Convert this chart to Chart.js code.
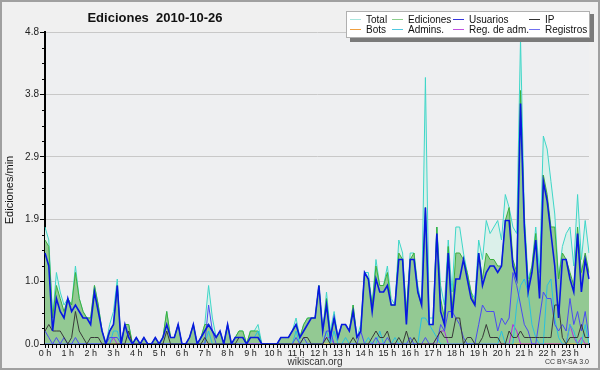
<!DOCTYPE html>
<html>
<head>
<meta charset="utf-8">
<script src="https://cdn.jsdelivr.net/npm/chart.js@4.4.1/dist/chart.umd.min.js"></script>
<style>
  html, body { margin: 0; padding: 0; background: #f0f0f0; }
  #wrap { width: 600px; height: 370px; }
</style>
</head>
<body>
<div id="wrap"><canvas id="chart" width="600" height="370"></canvas></div>
<script>
// 10-minute slots over one day, values in edits per minute
const hourLabels = ['0 h','1 h','2 h','3 h','4 h','5 h','6 h','7 h','8 h','9 h','10 h','11 h',
                    '12 h','13 h','14 h','15 h','16 h','17 h','18 h','19 h','20 h','21 h','22 h','23 h'];
const slots = [];
for (let h = 0; h < 24; h++) {
  for (let m = 0; m < 60; m += 10) slots.push(h + ':' + String(m).padStart(2, '0'));
}

const yTicks = [0, 0.96, 1.92, 2.88, 3.84, 4.8];
const yTickLabels = ['0.0', '1.0', '1.9', '2.9', '3.8', '4.8'];

const total = [
  1.8,1.6,0.4,1.1,0.8,0.6,0.7,0.6,1.2,0.7,0.5,0.4,
  0.4,0.9,0.6,0.2,0,0.3,0.5,1.0,0,0.3,0.3,0,
  0.1,0,0.1,0,0,0.1,0,0.1,0.5,0.1,0.1,0.3,
  0,0,0.1,0.3,0,0.1,0.3,0.9,0.4,0.1,0.2,0,
  0.3,0,0.1,0.2,0.2,0,0.2,0.2,0.3,0,0,0,
  0,0,0.1,0.1,0.1,0.2,0.4,0.1,0.3,0.4,0.4,0.4,
  0.9,0.2,0.8,0.2,0.5,0.1,0.3,0.3,0.2,0.6,0.1,0.3,
  1.1,1.1,0.6,1.3,0.9,0.9,1.2,0.7,0.6,1.6,1.4,0.5,
  1.4,1.4,0.9,0.6,4.1,0.4,0.4,1.8,0.9,0.6,1.6,0.8,
  1.8,1.8,1.4,1.1,0.8,0.7,1.6,1.3,1.9,1.7,1.8,1.9,
  1.6,2.3,2.1,1.8,1.7,4.7,2.0,1.0,1.2,1.8,1.1,3.2,
  3.0,2.5,2.0,1.0,1.5,1.7,1.8,1.2,2.3,1.3,1.9,1.4
];
const ediciones = [
  1.6,1.5,0.4,0.9,0.7,0.5,0.7,0.6,1.1,0.7,0.5,0.4,
  0.4,0.9,0.6,0.2,0,0.2,0.3,0.9,0,0.3,0.3,0,
  0.1,0,0.1,0,0,0.1,0,0.1,0.5,0.1,0.1,0.3,
  0,0,0.1,0.3,0,0.1,0.3,0.3,0.2,0.1,0.2,0,
  0.3,0,0.1,0.2,0.2,0,0.2,0.2,0.2,0,0,0,
  0,0,0.1,0.1,0.1,0.2,0.3,0.1,0.3,0.4,0.4,0.4,
  0.9,0.2,0.7,0.1,0.4,0.1,0.3,0.3,0.2,0.6,0.1,0.2,
  1.1,1.0,0.6,1.2,0.9,0.9,1.1,0.6,0.6,1.4,1.3,0.5,
  1.3,1.4,0.8,0.6,2.1,0.3,0.3,1.8,0.7,0.4,1.5,0.5,
  1.4,1.4,1.3,1.1,0.8,0.6,1.4,1.0,1.4,1.3,1.3,1.2,
  1.2,1.9,2.1,1.3,1.1,3.9,1.9,0.9,1.2,1.7,0.8,2.6,
  2.3,1.8,1.8,1.0,1.4,1.3,1.1,0.9,1.8,1.1,1.4,1.1
];
const usuarios = [
  1.4,1.2,0.2,0.7,0.5,0.4,0.7,0.5,0.6,0.5,0.4,0.4,
  0.3,0.8,0.5,0.2,0,0.2,0.3,0.9,0,0.3,0.1,0,
  0.1,0,0.1,0,0,0.1,0,0.1,0.3,0.1,0.1,0.3,
  0,0,0.1,0.3,0,0.1,0.2,0.3,0.2,0.1,0.2,0,
  0.3,0,0.1,0.1,0.1,0,0.1,0.1,0.1,0,0,0,
  0,0,0.1,0.1,0.1,0.2,0.3,0.1,0.2,0.3,0.4,0.4,
  0.9,0.2,0.6,0.1,0.4,0.1,0.3,0.3,0.2,0.5,0.1,0.2,
  1.1,1.0,0.5,1.0,0.8,0.8,0.9,0.6,0.6,1.3,1.3,0.3,
  1.3,1.3,0.8,0.6,2.1,0.3,0.3,1.7,0.5,0.3,1.4,0.4,
  1.0,1.0,1.3,1.0,0.7,0.6,1.4,0.9,1.1,1.2,1.2,1.1,
  1.2,1.9,1.9,1.2,1.0,3.7,1.8,0.8,1.1,1.6,0.7,2.5,
  2.2,1.7,1.2,0.4,1.3,1.3,1.0,0.8,1.7,0.8,1.3,1.0
];
const ip = [
  0.2,0.3,0.2,0.2,0.2,0.1,0,0.1,0.5,0.2,0.1,0,
  0.1,0.1,0.1,0,0,0,0,0,0,0,0.2,0,
  0,0,0,0,0,0,0,0,0.2,0,0,0,
  0,0,0,0,0,0,0.1,0,0,0,0,0,
  0,0,0,0.1,0.1,0,0.1,0.1,0.1,0,0,0,
  0,0,0,0,0,0,0,0,0.1,0.1,0,0,
  0,0,0.1,0,0,0,0,0,0,0.1,0,0,
  0,0,0.1,0.2,0.1,0.1,0.2,0,0,0.1,0,0.2,
  0,0.1,0,0,0,0,0,0.1,0.2,0.1,0.1,0.1,
  0.4,0.4,0,0.1,0.1,0,0,0.1,0.3,0.1,0.1,0.1,
  0,0,0.2,0.1,0.1,0.2,0.1,0.1,0.1,0.1,0.1,0.1,
  0.1,0.1,0.6,0.6,0.1,0,0.1,0.1,0.1,0.3,0.1,0.1
];
const bots = [
  0,0,0,0,0,0,0,0,0,0,0,0,
  0,0,0,0,0,0,0,0,0,0,0,0,
  0,0,0,0,0,0,0,0,0,0,0,0,
  0,0,0,0,0,0,0,0,0,0,0,0,
  0,0,0,0,0,0,0,0,0,0,0,0,
  0,0,0,0,0,0,0,0,0,0,0,0,
  0,0,0,0,0,0,0,0,0,0,0,0,
  0,0,0,0,0,0,0,0,0,0,0,0,
  0,0,0,0,0,0,0,0,0,0,0,0,
  0,0,0,0,0,0,0,0,0,0,0,0,
  0,0,0,0,0,0,0,0,0,0,0,0,
  0,0,0,0,0,0,0,0,0,0,0,0
];
const admins = [
  0,0,0,0,0,0,0,0,0,0,0,0,
  0,0,0,0,0,0,0.2,0.2,0,0,0,0,
  0,0,0,0,0,0,0,0,0,0,0,0,
  0,0,0,0,0,0,0,0.2,0,0,0,0,
  0,0,0,0,0,0,0.1,0.1,0.2,0,0,0,
  0,0,0,0,0,0,0.2,0,0,0,0,0,
  0,0,0.2,0,0.2,0,0,0.1,0,0,0,0,
  0,0.1,0,0,0.2,0,0,0,0.1,0,0,0,
  0,0,0,0.4,0.4,0.3,0.2,0.1,0,0,0,0,
  0,0,0,0,0,0,0,0,0,0,0,0,
  0.2,0,0,0,0.6,0.9,1.0,0.8,0.3,0.1,0,0,
  0.9,1.0,0.4,0.1,0,0,0.3,0.2,0,0,0.3,0
];
const regAdm = [
  0,0,0,0,0,0,0,0,0,0,0,0,
  0,0,0,0,0,0,0.1,0,0,0,0,0,
  0,0,0,0,0,0,0,0,0,0,0,0,
  0,0,0,0,0,0,0,0,0,0,0,0,
  0,0,0,0,0,0,0,0,0,0,0,0,
  0,0,0,0,0,0,0,0,0,0,0,0,
  0,0,0.1,0.1,0,0,0,0,0,0,0,0,
  0,0,0,0,0,0,0,0,0,0,0,0,
  0,0,0,0,0,0,0,0.1,0.2,0.2,0,0,
  0,0,0,0,0,0,0,0,0,0,0,0,
  0,0,0,0.3,0.2,0,0,0,0,0,0,0,
  0,0,0,0,0,0,0.3,0.1,0,0.1,0,0
];
const registros = [
  0.2,0.1,0,0.1,0,0.1,0,0,0.1,0,0,0,
  0,0,0,0,0,0.1,0.1,0.1,0,0,0,0,
  0,0,0,0,0,0,0,0,0,0,0,0,
  0,0,0,0,0,0,0,0.6,0.2,0,0,0,
  0,0,0,0,0,0,0,0,0,0,0,0,
  0,0,0,0,0,0,0.1,0,0.1,0,0,0,
  0,0,0.2,0.2,0,0,0,0,0,0,0,0.2,
  0,0,0,0.1,0,0,0.1,0,0,0,0,0,
  0.1,0,0,0,0.1,0,0,0,0.3,0.2,0.5,0.5,
  0.4,0.3,0.1,0,0,0,0.3,0.6,0.5,0.5,0.5,0.2,
  0.4,0.3,0.4,1.1,0.9,0.6,0.3,0.2,0,0,0.4,0.8,
  0.7,0.7,0.3,0.2,0.3,0.2,0.7,0.3,0.5,0.2,0.5,0.1
];

// legend layout: two rows of four, same order as the original
const legendItems = [
  { label: 'Total', color: '#a8e6de' },
  { label: 'Ediciones', color: '#8ccf8c' },
  { label: 'Usuarios', color: '#3535dd' },
  { label: 'IP', color: '#333333' },
  { label: 'Bots', color: '#f0a040' },
  { label: 'Admins.', color: '#50c8e0' },
  { label: 'Reg. de adm.', color: '#c050e0' },
  { label: 'Registros', color: '#7070f0' }
];

function line(label, data, color, width, order, extra) {
  return Object.assign({
    label: label, data: data, borderColor: color, borderWidth: width,
    pointRadius: 0, tension: 0, fill: false, order: order
  }, extra || {});
}

const decor = {
  id: 'decor',
  beforeDraw(chart) {
    const ctx = chart.ctx, a = chart.chartArea;
    ctx.save();
    ctx.fillStyle = '#f0f0f0';
    ctx.fillRect(0, 0, chart.width, chart.height);
    ctx.fillStyle = '#eeeff1';
    ctx.fillRect(a.left, a.top, a.right - a.left, a.bottom - a.top);
    ctx.restore();
  },
  afterDraw(chart) {
    const ctx = chart.ctx, a = chart.chartArea, y = chart.scales.y;
    ctx.save();
    // minor ticks on the value axis
    ctx.strokeStyle = '#000';
    ctx.lineWidth = 1;
    for (let i = 0; i < yTicks.length - 1; i++) {
      const step = (yTicks[i + 1] - yTicks[i]) / 4;
      for (let k = 1; k < 4; k++) {
        const py = Math.round(y.getPixelForValue(yTicks[i] + k * step)) + 0.5;
        ctx.beginPath(); ctx.moveTo(a.left - 3, py); ctx.lineTo(a.left, py); ctx.stroke();
      }
    }
    // title
    ctx.fillStyle = '#111';
    ctx.font = 'bold 13px "Liberation Sans", Arial, sans-serif';
    ctx.textAlign = 'center';
    ctx.textBaseline = 'alphabetic';
    ctx.fillText('Ediciones  2010-10-26', 155, 22);
    // axis title
    ctx.save();
    ctx.translate(13, 190);
    ctx.rotate(-Math.PI / 2);
    ctx.font = '11px "Liberation Sans", Arial, sans-serif';
    ctx.fillStyle = '#111';
    ctx.textAlign = 'center';
    ctx.fillText('Ediciones/min', 0, 0);
    ctx.restore();
    // footer
    ctx.font = '10px "Liberation Sans", Arial, sans-serif';
    ctx.fillStyle = '#333';
    ctx.textAlign = 'center';
    ctx.fillText('wikiscan.org', 315, 365);
    ctx.font = '7px "Liberation Sans", Arial, sans-serif';
    ctx.textAlign = 'right';
    ctx.fillText('CC BY-SA 3.0', 589, 364);
    // legend box with shadow
    ctx.fillStyle = '#7a7a7a';
    ctx.fillRect(350, 14, 244, 28);
    ctx.fillStyle = '#ffffff';
    ctx.fillRect(346, 11, 244, 27);
    ctx.strokeStyle = '#b0b0b0';
    ctx.strokeRect(346.5, 11.5, 243, 26);
    const colSwatch = [350, 392, 453, 529];
    const rowY = [19, 29];
    ctx.font = '10px "Liberation Sans", Arial, sans-serif';
    ctx.textAlign = 'left';
    ctx.textBaseline = 'middle';
    legendItems.forEach((it, i) => {
      const cx = colSwatch[i % 4], cy = rowY[Math.floor(i / 4)];
      ctx.strokeStyle = it.color;
      ctx.beginPath(); ctx.moveTo(cx, cy + 0.5); ctx.lineTo(cx + 11, cy + 0.5); ctx.stroke();
      ctx.fillStyle = '#111';
      ctx.fillText(it.label, cx + 16, cy + 1);
    });
    // outer frame
    ctx.strokeStyle = '#a0a0a0';
    ctx.lineWidth = 2;
    ctx.strokeRect(1, 1, chart.width - 2, chart.height - 2);
    ctx.restore();
  }
};

new Chart(document.getElementById('chart'), {
  type: 'line',
  data: {
    labels: slots,
    datasets: [
      line('Total', total, '#3fd6c8', 1, 10, { fill: 'origin', backgroundColor: '#dbf0ea' }),
      line('Ediciones', ediciones, '#3cb03c', 1, 9, { fill: 'origin', backgroundColor: '#93c993' }),
      line('Bots', bots, '#f0a040', 1, 8),
      line('Reg. de adm.', regAdm, '#b030e0', 1, 7),
      line('Admins.', admins, '#28c0e0', 1, 6),
      line('Registros', registros, '#4a4af2', 1, 5),
      line('IP', ip, '#383838', 1, 4),
      line('Usuarios', usuarios, '#0818e0', 1.6, 3)
    ]
  },
  options: {
    responsive: false,
    animation: false,
    devicePixelRatio: 1,
    layout: { padding: { top: 32, right: 11, left: 0, bottom: 0 } },
    plugins: { legend: { display: false }, tooltip: { enabled: false }, title: { display: false } },
    scales: {
      x: {
        type: 'category',
        offset: false,
        afterFit: s => { s.height = 26; },
        grid: { drawOnChartArea: false, tickLength: 4, tickColor: '#000' },
        border: { color: '#000', width: 2 },
        ticks: {
          autoSkip: false, maxRotation: 0, minRotation: 0, padding: 0,
          color: '#222', font: { size: 9, family: '"Liberation Sans", Arial, sans-serif' },
          callback: (v, i) => (i % 6 === 0 ? hourLabels[i / 6] : '')
        }
      },
      y: {
        min: 0, max: 4.8,
        afterFit: s => { s.width = 45; },
        afterBuildTicks: s => { s.ticks = yTicks.map(v => ({ value: v })); },
        grid: {
          color: c => (c.tick && c.tick.value === 0 ? 'rgba(0,0,0,0)' : '#c8c8c8'),
          tickColor: '#000', tickLength: 5
        },
        border: { color: '#000', width: 2 },
        ticks: {
          padding: 1, color: '#222',
          font: { size: 10, family: '"Liberation Sans", Arial, sans-serif' },
          callback: (v, i) => yTickLabels[i]
        }
      }
    }
  },
  plugins: [decor]
});
</script>
</body>
</html>
